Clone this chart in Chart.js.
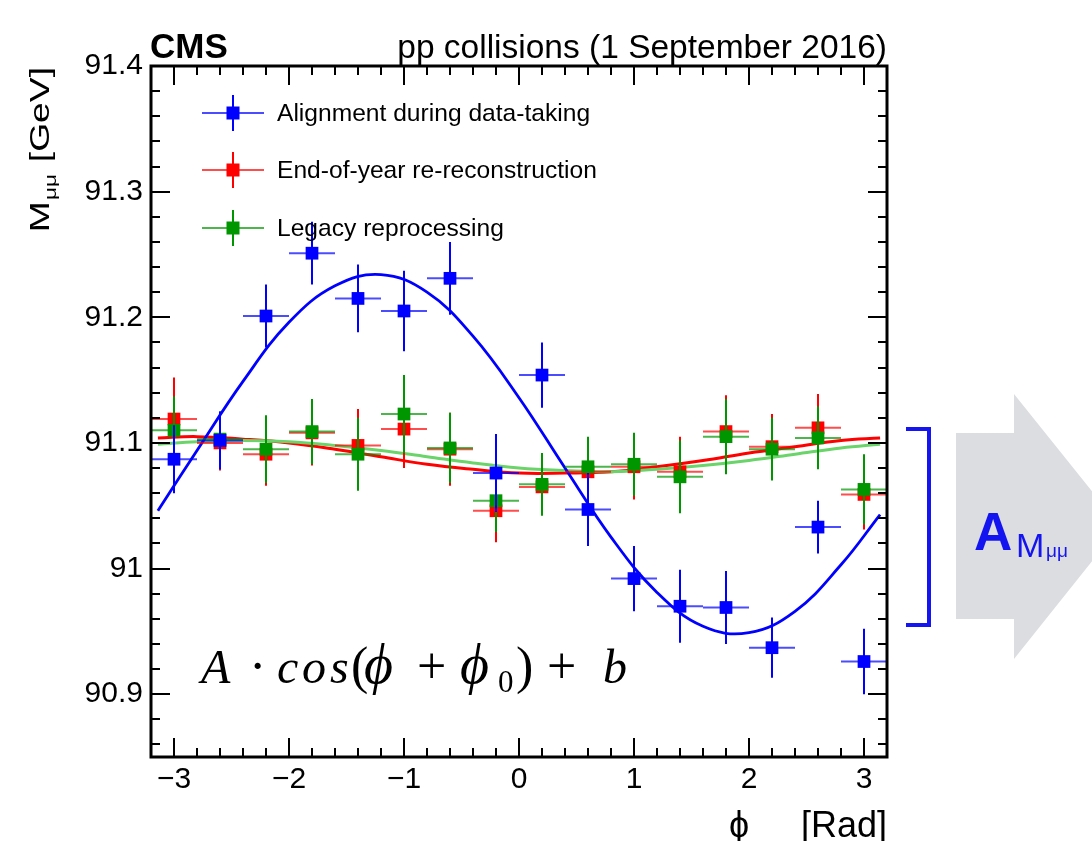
<!DOCTYPE html>
<html>
<head>
<meta charset="utf-8">
<script src="https://cdn.jsdelivr.net/npm/chart.js@4.4.1/dist/chart.umd.min.js"></script>
<style>
  html, body { margin: 0; padding: 0; background: #fff; }
  #wrap { width: 1092px; height: 841px; position: relative; }
</style>
</head>
<body>
<div id="wrap"><canvas id="massChart"></canvas></div>
<script>
// bin centres in phi and half width of each bin
const phiBins = [-3.0, -2.6, -2.2, -1.8, -1.4, -1.0, -0.6, -0.2, 0.2, 0.6, 1.0, 1.4, 1.8, 2.2, 2.6, 3.0];
const binHalfWidth = 0.2;

// mean dimuon mass per bin [GeV]
const alignMass  = [91.087, 91.102, 91.201, 91.251, 91.215, 91.205, 91.231, 91.076, 91.154, 91.047, 90.992, 90.970, 90.969, 90.937, 91.033, 90.926];
const alignErr   = [0.027, 0.023, 0.025, 0.025, 0.027, 0.032, 0.029, 0.031, 0.026, 0.029, 0.026, 0.029, 0.029, 0.024, 0.021, 0.026];
const eoyMass    = [91.119, 91.100, 91.091, 91.108, 91.098, 91.111, 91.095, 91.046, 91.065, 91.077, 91.081, 91.077, 91.109, 91.097, 91.112, 91.059];
const eoyErr     = [0.033, 0.022, 0.025, 0.026, 0.029, 0.031, 0.029, 0.025, 0.022, 0.024, 0.026, 0.028, 0.029, 0.026, 0.027, 0.028];
const legacyMass = [91.110, 91.103, 91.095, 91.109, 91.091, 91.123, 91.096, 91.054, 91.067, 91.081, 91.083, 91.073, 91.105, 91.095, 91.104, 91.063];
const legacyErr  = [0.027, 0.022, 0.027, 0.026, 0.029, 0.031, 0.028, 0.025, 0.025, 0.024, 0.025, 0.029, 0.030, 0.025, 0.025, 0.028];

// fitted curves
const fitPhi    = [-3.14, -2.8, -2.4, -2.0, -1.6, -1.2, -0.8, -0.4, 0.0, 0.4, 0.8, 1.2, 1.6, 2.0, 2.4, 2.8, 3.14];
const alignFit  = [91.046, 91.094, 91.149, 91.196, 91.225, 91.234, 91.220, 91.185, 91.136, 91.080, 91.025, 90.981, 90.954, 90.949, 90.966, 91.003, 91.043];
const eoyFit    = [91.104, 91.105, 91.103, 91.100, 91.095, 91.089, 91.083, 91.079, 91.076, 91.076, 91.077, 91.081, 91.086, 91.092, 91.097, 91.102, 91.104];
const legacyFit = [91.099, 91.101, 91.102, 91.101, 91.098, 91.094, 91.089, 91.084, 91.080, 91.078, 91.077, 91.079, 91.082, 91.086, 91.091, 91.096, 91.099];

const xTickVals = [-3, -2, -1, 0, 1, 2, 3];
const xTickLabels = ['\u22123', '\u22122', '\u22121', '0', '1', '2', '3'];
const yTickVals = [90.9, 91.0, 91.1, 91.2, 91.3, 91.4];
const yTickLabels = ['90.9', '91', '91.1', '91.2', '91.3', '91.4'];
const seriesNames = ['Alignment during data-taking', 'End-of-year re-reconstruction', 'Legacy reprocessing'];

const SANS = "'Liberation Sans', Arial, Helvetica, sans-serif";
const SERIF = "'Liberation Serif', 'DejaVu Serif', serif";

function points(vals) { return phiBins.map((x, i) => ({ x: x, y: vals[i] })); }
function curve(vals) { return fitPhi.map((x, i) => ({ x: x, y: vals[i] })); }

// error bars (drawn just before each point set), frame, ticks and texts
const decorations = {
    id: 'decorations',
    beforeDatasetDraw(chart, args) {
        const ds = chart.data.datasets[args.index];
        if (!ds.errors) return;
        const xs = chart.scales.x, ys = chart.scales.y, ctx = chart.ctx;
        ctx.save();
        ctx.strokeStyle = ds.backgroundColor;
        ctx.lineWidth = 2;
        ds.data.forEach((p, i) => {
            const px = Math.round(xs.getPixelForValue(p.x));
            const py = ys.getPixelForValue(p.y);
            ctx.globalAlpha = 0.7;
            ctx.beginPath();
            ctx.moveTo(xs.getPixelForValue(p.x - binHalfWidth), py);
            ctx.lineTo(xs.getPixelForValue(p.x + binHalfWidth), py);
            ctx.stroke();
            ctx.globalAlpha = 1;
            ctx.beginPath();
            ctx.moveTo(px, ys.getPixelForValue(p.y - ds.errors[i]));
            ctx.lineTo(px, ys.getPixelForValue(p.y + ds.errors[i]));
            ctx.stroke();
        });
        ctx.restore();
    },
    afterDraw(chart) {
        const ctx = chart.ctx, a = chart.chartArea;
        const xs = chart.scales.x, ys = chart.scales.y;
        ctx.save();

        // inward ticks on all four sides
        ctx.strokeStyle = '#000';
        ctx.lineWidth = 2;
        ctx.beginPath();
        for (let k = -16; k <= 16; k++) {
            const px = Math.round(xs.getPixelForValue(k * 0.2));
            const len = (k % 5 === 0) ? 19 : 9;
            ctx.moveTo(px, a.bottom); ctx.lineTo(px, a.bottom - len);
            ctx.moveTo(px, a.top); ctx.lineTo(px, a.top + len);
        }
        for (let k = 4543; k <= 4570; k++) {
            const py = Math.round(ys.getPixelForValue(k * 0.02));
            const len = (k % 5 === 0) ? 19 : 9;
            ctx.moveTo(a.left, py); ctx.lineTo(a.left + len, py);
            ctx.moveTo(a.right, py); ctx.lineTo(a.right - len, py);
        }
        ctx.stroke();

        ctx.lineWidth = 3;
        ctx.strokeRect(a.left, a.top, a.right - a.left, a.bottom - a.top);

        // header
        ctx.fillStyle = '#000';
        ctx.textBaseline = 'alphabetic';
        ctx.font = 'bold 35px ' + SANS;
        ctx.textAlign = 'left';
        ctx.fillText('CMS', a.left - 1, 58);
        ctx.font = '33.5px ' + SANS;
        ctx.textAlign = 'right';
        ctx.fillText('pp collisions (1 September 2016)', a.right, 58);

        // x title
        ctx.font = '36px ' + SANS;
        ctx.textAlign = 'right';
        ctx.fillText('[Rad]', a.right, 837);
        ctx.textAlign = 'center';
        ctx.fillText('\u03D5', 739, 837);

        // y title, rotated
        ctx.save();
        ctx.translate(49, a.top + 1);
        ctx.rotate(-Math.PI / 2);
        ctx.scale(1.33, 1);
        ctx.textAlign = 'left';
        ctx.font = '28px ' + SANS;
        const wM = ctx.measureText('M').width;
        const wRest = ctx.measureText(' [GeV]').width;
        ctx.font = '17px ' + SANS;
        const wSub = ctx.measureText('\u03BC\u03BC').width;
        const total = wM + wSub + wRest + 2;
        ctx.font = '28px ' + SANS;
        ctx.fillText('M', -total, 0);
        ctx.fillText(' [GeV]', -total + wM + wSub + 2, 0);
        ctx.font = '17px ' + SANS;
        ctx.fillText('\u03BC\u03BC', -total + wM + 1, 7);
        ctx.restore();

        // legend
        const legendRows = [113, 170, 228];
        legendRows.forEach((cy, i) => {
            const ds = chart.data.datasets[i];
            const cx = 233;
            ctx.strokeStyle = ds.backgroundColor;
            ctx.lineWidth = 2;
            ctx.globalAlpha = 0.7;
            ctx.beginPath(); ctx.moveTo(202, cy); ctx.lineTo(264, cy); ctx.stroke();
            ctx.globalAlpha = 1;
            ctx.beginPath(); ctx.moveTo(cx, cy - 18); ctx.lineTo(cx, cy + 18); ctx.stroke();
            ctx.fillStyle = ds.backgroundColor;
            ctx.fillRect(cx - 6.5, cy - 6.5, 13, 13);
            ctx.fillStyle = '#000';
            ctx.font = '24.6px ' + SANS;
            ctx.textAlign = 'left';
            ctx.textBaseline = 'middle';
            ctx.fillText(ds.label, 277, cy + 1);
        });

        // formula A·cos(phi+phi0)+b
        ctx.textBaseline = 'alphabetic';
        ctx.textAlign = 'left';
        ctx.fillStyle = '#000';
        const it = 'italic 48px ' + SERIF, up = '52px ' + SERIF, ph = 'italic 56px ' + SERIF;
        const pieces = [
            ['A', it, 201], ['\u00B7', up, 249], ['c', it, 277], ['o', it, 302], ['s', it, 330],
            ['(', up, 351], ['\u03D5', ph, 364], ['+', up, 417], ['\u03D5', ph, 460], [')', up, 516],
            ['+', up, 547], ['b', it, 603]
        ];
        pieces.forEach(p => { ctx.font = p[1]; ctx.fillText(p[0], p[2], 683); });
        ctx.font = '31px ' + SERIF;
        ctx.fillText('0', 498, 692);

        // amplitude bracket and arrow
        ctx.strokeStyle = '#1515f2';
        ctx.lineWidth = 4;
        ctx.beginPath();
        ctx.moveTo(906, 429); ctx.lineTo(929, 429); ctx.lineTo(929, 625); ctx.lineTo(906, 625);
        ctx.stroke();
        ctx.fillStyle = '#dcdde0';
        ctx.beginPath();
        ctx.moveTo(956, 433); ctx.lineTo(1014, 433); ctx.lineTo(1014, 394);
        ctx.lineTo(1120, 526); ctx.lineTo(1014, 659); ctx.lineTo(1014, 619); ctx.lineTo(956, 619);
        ctx.closePath();
        ctx.fill();
        ctx.fillStyle = '#1414f0';
        ctx.font = 'bold 53px ' + SANS;
        ctx.fillText('A', 974, 550);
        ctx.font = '34px ' + SANS;
        ctx.fillText('M', 1016, 557);
        ctx.font = '19px ' + SANS;
        ctx.fillText('\u03BC\u03BC', 1046, 557);

        ctx.restore();
    }
};

const ctx = document.getElementById('massChart').getContext('2d');

new Chart(ctx, {
    type: 'scatter',
    data: {
        datasets: [
            { label: seriesNames[0], data: points(alignMass), errors: alignErr,
              backgroundColor: '#0000ff', pointStyle: 'rect', pointRadius: 9, pointBorderWidth: 0, order: 1 },
            { label: seriesNames[1], data: points(eoyMass), errors: eoyErr,
              backgroundColor: '#ff0000', pointStyle: 'rect', pointRadius: 9, pointBorderWidth: 0, order: 3 },
            { label: seriesNames[2], data: points(legacyMass), errors: legacyErr,
              backgroundColor: '#009600', pointStyle: 'rect', pointRadius: 9, pointBorderWidth: 0, order: 2 },
            { label: 'fit ' + seriesNames[0], data: curve(alignFit), showLine: true, borderColor: '#0000ff',
              borderWidth: 2.8, pointRadius: 0, tension: 0.4, order: 4 },
            { label: 'fit ' + seriesNames[2], data: curve(legacyFit), showLine: true, borderColor: '#6ad46a',
              borderWidth: 3, pointRadius: 0, tension: 0.4, order: 5 },
            { label: 'fit ' + seriesNames[1], data: curve(eoyFit), showLine: true, borderColor: '#ff0000',
              borderWidth: 3, pointRadius: 0, tension: 0.4, order: 6 }
        ]
    },
    options: {
        responsive: true,
        maintainAspectRatio: false,
        animation: false,
        layout: { padding: { left: 0, right: 205, top: 66, bottom: 0 } },
        plugins: {
            legend: { display: false },
            tooltip: { enabled: false }
        },
        scales: {
            x: {
                type: 'linear',
                min: -3.2,
                max: 3.2,
                afterBuildTicks: s => { s.ticks = xTickVals.map(v => ({ value: v })); },
                afterFit: s => { s.height = 84; },
                grid: { display: false, drawTicks: false },
                border: { display: false },
                ticks: {
                    autoSkip: false,
                    maxRotation: 0,
                    padding: 5,
                    color: '#000',
                    font: { family: SANS, size: 30 },
                    callback: (v, i) => xTickLabels[i]
                }
            },
            y: {
                type: 'linear',
                min: 90.85,
                max: 91.4,
                afterBuildTicks: s => { s.ticks = yTickVals.map(v => ({ value: v })); },
                afterFit: s => { s.width = 151; },
                grid: { display: false, drawTicks: false },
                border: { display: false },
                ticks: {
                    autoSkip: false,
                    padding: 8,
                    color: '#000',
                    font: { family: SANS, size: 30 },
                    callback: (v, i) => yTickLabels[i]
                }
            }
        }
    },
    plugins: [decorations]
});
</script>
</body>
</html>
